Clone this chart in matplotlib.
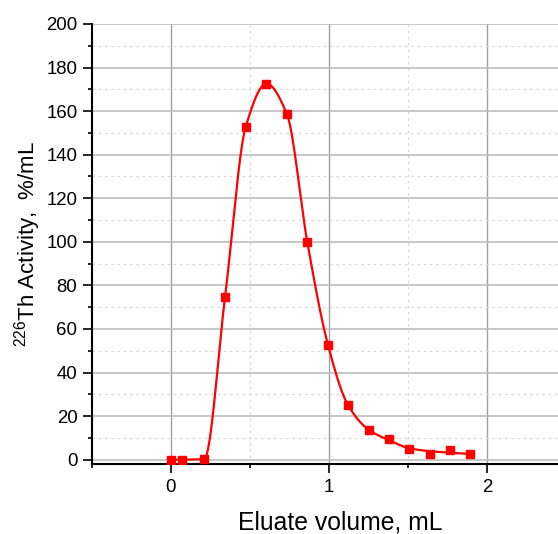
import numpy as np
import matplotlib
matplotlib.use("Agg")
import matplotlib.pyplot as plt
from matplotlib.ticker import MultipleLocator

plt.rcParams['font.family'] = ['Liberation Sans', 'DejaVu Sans']
plt.rcParams['mathtext.fontset'] = 'custom'
plt.rcParams['mathtext.rm'] = 'Liberation Sans'
plt.rcParams['mathtext.it'] = 'Liberation Sans'
plt.rcParams['mathtext.default'] = 'regular'

# Measured data points
volume = [0.0, 0.072, 0.21, 0.342, 0.473, 0.604, 0.734, 0.863, 0.994,
          1.12, 1.25, 1.38, 1.508, 1.637, 1.766, 1.894]
activity = [0.0, 0.0, 0.3, 74.7, 152.8, 172.4, 158.5, 99.7, 52.5,
            25.1, 13.8, 9.4, 4.9, 2.75, 4.4, 2.6]
# Smoothed fit curve read at the same volumes
fit_activity = [0.0, 0.0, 0.3, 74.7, 152.8, 172.6, 158.5, 99.7, 52.5,
                25.1, 13.8, 8.9, 5.2, 3.9, 3.2, 2.6]

x_ticks = [0, 1, 2]
y_ticks = [0, 20, 40, 60, 80, 100, 120, 140, 160, 180, 200]


def pchip(xk, yk, xs):
    xk = np.asarray(xk, float)
    yk = np.asarray(yk, float)
    h = np.diff(xk)
    d = np.diff(yk) / h
    n = len(xk)
    m = np.zeros(n)
    for i in range(1, n - 1):
        if d[i - 1] * d[i] <= 0:
            m[i] = 0.0
        else:
            w1 = 2 * h[i] + h[i - 1]
            w2 = h[i] + 2 * h[i - 1]
            m[i] = (w1 + w2) / (w1 / d[i - 1] + w2 / d[i])
    m[0] = d[0]
    m[-1] = d[-1]
    idx = np.clip(np.searchsorted(xk, xs) - 1, 0, n - 2)
    t = (xs - xk[idx]) / h[idx]
    h00 = 2 * t**3 - 3 * t**2 + 1
    h10 = t**3 - 2 * t**2 + t
    h01 = -2 * t**3 + 3 * t**2
    h11 = t**3 - t**2
    return (h00 * yk[idx] + h10 * h[idx] * m[idx]
            + h01 * yk[idx + 1] + h11 * h[idx] * m[idx + 1])


W, H = 558, 534
fig = plt.figure(figsize=(W / 100, H / 100), dpi=100)
ax = fig.add_axes([92 / W, (H - 464) / H, (566 - 92) / W, (464 - 24) / H])

xs = np.linspace(volume[0], volume[-1], 600)
ax.plot(xs, pchip(volume, fit_activity, xs), color='#ff0000', lw=1.6, zorder=3)
ax.plot(volume, activity, ls='none', marker='s', ms=5.2, color='#ff0000',
        mec='#ff0000', zorder=4)

ax.set_xlim(-0.5, 2.5)
ax.set_ylim(-2, 200)
ax.set_xticks(x_ticks)
ax.set_yticks(y_ticks)
ax.xaxis.set_minor_locator(MultipleLocator(0.5))
ax.yaxis.set_minor_locator(MultipleLocator(10))

ax.grid(True, which='major', axis='x', color='#a0a0a0', lw=1.0, ls='-')
ax.grid(True, which='major', axis='y', color='#bdbdbd', lw=1.2, ls='-')
ax.grid(True, which='minor', color='#d8d8d8', lw=0.9, ls=(0, (2, 3)))
ax.set_axisbelow(True)

for s in ['top', 'right']:
    ax.spines[s].set_visible(False)
for s in ['left', 'bottom']:
    ax.spines[s].set_linewidth(1.5)
    ax.spines[s].set_color('black')

ax.tick_params(which='major', direction='out', length=6.5, width=1.2,
               labelsize=13.4, pad=4, colors='black')
ax.tick_params(which='minor', direction='out', length=3, width=1.2)

ax.set_xlabel('Eluate volume, mL', fontsize=17.8, labelpad=10)
ax.xaxis.set_label_coords(0.523, -0.105)
ax.set_ylabel('$^{226}$Th Activity,  %/mL', fontsize=16, labelpad=2)

fig.savefig('out.png', dpi=100)
